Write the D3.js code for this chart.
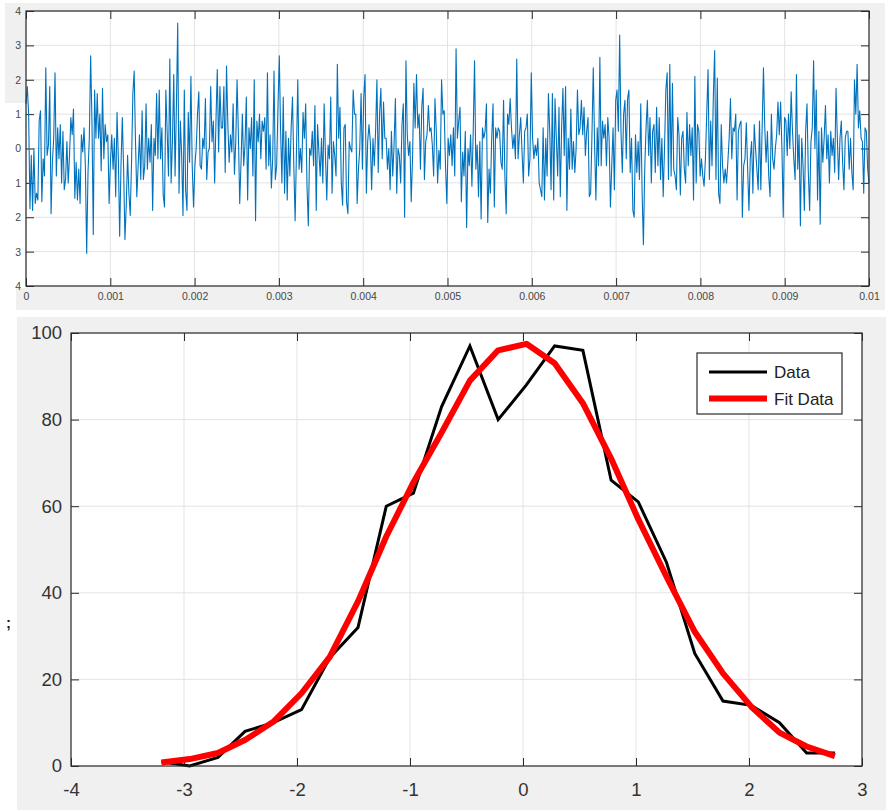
<!DOCTYPE html>
<html><head><meta charset="utf-8">
<script src="https://cdn.jsdelivr.net/npm/d3@7"></script>
<style>
body{margin:0;background:#fff}
svg{display:block}
text{font-family:"Liberation Sans",Arial,Helvetica,sans-serif}
</style>
</head><body>
<svg id="c" width="890" height="810"></svg>
<script>
// ---------- Top panel: noise signal ----------
const signal = [
 1.3,1.8,1.0,-1.75,-0.2,-1.8,0.0,-1.6,-1.3,-1.5,0.8,1.1,-1.55,-0.3,-0.8,2.35,-0.2,0.1,1.8,-1.9,-0.4,0.3,2.2,-0.8,0.6,-0.3,0.7,-1.0,0.5,-1.2,-0.9,0.2,-1.0,-0.2,0.9,0.4,1.15,-1.45,-0.4,-1.5,-0.6,-1.6,0.4,-0.1,0.6,-0.5,-3.05,-0.7,0.3,2.7,0.8,-2.5,1.7,0.3,1.6,0.3,1.0,-0.65,1.75,-0.3,0.7,0.2,0.4,-1.6,
 -0.4,0.4,-0.6,0.3,-1.4,1.05,-0.3,-2.55,-0.5,0.9,-0.6,-2.65,-1.65,-0.2,-1.3,-1.95,-0.4,1.6,2.25,0.2,-1.4,-0.5,0.4,-0.9,1.1,-0.9,-0.5,1.3,-0.6,0.3,-0.4,0.7,-1.8,0.3,-0.2,1.6,-0.3,1.7,-0.3,0.6,-1.35,-1.7,1.7,0.5,-0.8,2.6,-1.0,0.2,2.15,-0.8,1.2,3.65,-1.3,0.8,-0.2,-1.95,1.7,-1.2,-1.8,1.05,-0.4,2.1,-0.5,-1.7,
 -0.5,0.0,1.0,1.65,-0.5,-0.6,0.3,0.0,1.45,-0.9,-0.1,0.0,1.8,0.2,0.8,-1.0,0.8,2.3,-0.1,1.8,0.6,0.6,1.8,-0.7,2.4,0.7,-0.4,0.4,-0.1,1.3,-0.75,0.2,2.0,0.4,-1.6,-0.4,1.0,-0.5,0.1,1.5,-1.5,0.6,0.0,0.9,-0.8,2.0,-2.1,0.8,0.2,1.0,-0.3,0.8,0.5,0.9,-0.6,2.2,-0.5,0.4,-1.15,-0.3,2.25,-0.9,-0.5,1.2,
 2.7,0.5,-1.0,1.5,-1.3,0.5,-1.5,0.3,-0.8,0.6,1.5,-0.5,-2.1,-0.1,2.0,-0.6,0.0,-0.7,1.05,0.3,1.3,-1.1,-2.25,0.0,-0.2,0.5,-0.5,1.25,-1.8,0.7,-0.1,-0.8,0.3,-1.0,1.3,-0.2,-1.5,0.1,-0.3,1.5,-1.3,0.2,-0.2,-0.8,2.45,0.3,1.2,-1.0,-1.65,0.6,0.7,-1.55,-1.9,0.2,0.0,-0.1,1.7,1.0,1.0,-1.6,-0.6,0.0,1.6,-0.6,
 1.5,2.15,-1.3,0.2,0.7,0.2,-1.2,0.3,-0.5,0.5,2.0,-0.7,1.0,1.75,-0.3,1.35,0.3,0.3,-0.6,0.0,-1.2,0.5,-0.8,0.1,1.45,-1.3,0.0,-0.2,-1.0,0.7,1.3,-2.0,2.55,0.4,-0.2,0.2,-1.55,-0.3,1.9,0.6,2.15,0.6,1.0,-0.6,1.2,1.75,-0.9,0.2,0.4,1.25,0.5,0.6,0.1,-0.8,1.45,0.5,-1.0,-0.05,-0.6,2.0,1.0,1.1,-0.5,-1.6,
 0.3,-0.2,0.4,-0.5,0.6,-0.8,2.9,0.3,0.8,1.2,-1.55,-0.1,-0.8,0.5,-2.3,0.0,-0.5,0.4,-1.1,0.5,2.55,-0.6,0.1,-1.4,0.2,-2.05,0.6,0.3,0.5,1.3,-2.15,-0.6,-1.3,0.3,1.3,-1.7,0.6,0.3,0.6,0.5,-0.4,-0.6,1.4,-0.8,-1.9,1.0,0.7,1.45,0.6,0.0,0.4,-0.3,2.6,-0.3,0.4,0.9,-0.1,-1.0,0.5,0.6,1.0,-0.8,-0.3,2.2,
 0.3,-0.3,0.1,-0.2,0.3,-1.0,-1.2,-1.4,0.6,-1.5,0.3,-0.8,1.6,0.5,-1.2,1.6,-1.5,1.45,0.3,-0.8,1.2,-1.4,0.6,1.75,-0.2,1.8,-1.8,0.3,-0.6,1.15,-0.6,0.2,-0.7,0.0,1.7,0.4,0.6,1.4,0.4,1.2,-0.2,0.5,0.9,-1.4,-1.3,0.4,2.35,0.1,-1.5,0.6,-0.5,2.65,-0.5,0.8,0.3,0.7,-0.5,0.9,0.3,-1.7,-0.5,0.6,-1.2,1.4,
 1.7,0.5,3.3,0.5,-0.7,1.0,1.4,-0.3,1.45,1.7,-0.7,0.3,-1.8,-2.0,0.4,-0.7,0.2,-0.9,1.3,-1.25,-2.8,-0.6,0.6,1.4,-0.2,0.9,-1.0,0.5,0.7,-0.7,1.2,-0.5,0.9,-0.9,0.3,-1.4,0.0,1.7,2.2,-0.9,2.45,-0.8,1.9,-0.6,-0.8,-1.2,0.9,0.4,-1.35,0.3,0.5,-0.6,-1.0,1.05,-0.5,0.7,-0.2,0.6,-1.5,2.1,-1.0,0.7,0.5,-0.8,
 -0.3,-0.8,-1.1,-0.3,1.0,2.3,-0.9,0.8,-0.5,1.5,2.85,-0.9,2.05,-1.3,-1.6,0.7,-0.5,-1.0,-0.6,-1.0,-0.4,0.3,1.45,-0.3,0.6,0.5,1.0,-1.5,0.5,0.7,0.8,-2.0,-0.5,-0.3,0.75,-0.6,-1.8,-0.3,0.2,-1.3,0.7,0.0,-0.6,-1.2,0.8,-1.2,0.6,2.35,0.6,-0.4,0.5,-0.8,-1.4,1.0,-0.3,-0.6,0.0,0.4,1.35,0.4,1.35,0.0,-2.0,0.9,
 0.8,-0.2,1.0,0.0,1.65,0.5,-0.3,-0.9,2.15,-0.6,0.4,-2.25,0.3,-0.5,-1.8,0.5,1.3,-0.7,-1.8,0.2,0.6,2.55,0.0,1.7,-1.5,0.5,-2.2,0.6,-0.4,0.3,1.25,-0.3,0.4,-1.0,0.5,-0.2,0.3,-0.7,1.75,0.3,-0.9,0.3,0.8,-0.4,-1.2,0.3,0.5,0.5,-0.6,0.3,-0.7,-1.2,2.0,1.0,2.45,0.6,1.1,0.3,0.2,-1.3,0.6,0.5,-0.6,-1.0
];
const signalTimeEnd = 0.01;
const topXTicks = [0,0.001,0.002,0.003,0.004,0.005,0.006,0.007,0.008,0.009,0.01];
const topXTickLabels = ["0","0.001","0.002","0.003","0.004","0.005","0.006","0.007","0.008","0.009","0.01"];
const topYTicks = [4,3,2,1,0,-1,-2,-3,-4];
const topYTickLabels = ["4","3","2","1","0","1","2","3","4"];

// ---------- Bottom panel: histogram counts and fitted curve ----------
const binCenters = [-3.20,-2.95,-2.70,-2.46,-2.21,-1.96,-1.71,-1.46,-1.21,-0.97,-0.72,-0.47,-0.22,0.03,0.28,0.53,0.78,1.02,1.27,1.52,1.77,2.02,2.27,2.51,2.76];
const dataCounts = [1,0,2,8,10,13,25,32,60,63,83,97,80,88,97,96,66,61,47,26,15,14,10,3,3];
const fitCounts  = [0.8,1.6,3.0,6.0,10.2,16.8,25.2,38.0,53.0,65.5,77.0,89.0,96.0,97.5,93.0,83.8,71.0,57.0,43.7,31.0,21.4,13.7,7.7,4.5,2.3];
const histXTicks = [-4,-3,-2,-1,0,1,2,3];
const histYTicks = [0,20,40,60,80,100];
const legendLabels = ["Data","Fit Data"];
const seriesColors = ["#000000","#ff0000"];

const svg = d3.select("#c");

// backgrounds
svg.append("rect").attr("x",5).attr("y",3).attr("width",880).attr("height",307).attr("fill","#f0f0f0");
svg.append("rect").attr("x",0).attr("y",103).attr("width",26).attr("height",185).attr("fill","#fff");
svg.append("rect").attr("x",0).attr("y",288).attr("width",16).attr("height",22).attr("fill","#fff");
svg.append("rect").attr("x",17).attr("y",317).attr("width",869).attr("height",493).attr("fill","#f0f0f0");

function frame(g, x, y, xt, yt, opts){
  const [x0,x1] = x.range(), [yb,yt0] = y.range();
  g.append("rect").attr("x",x0).attr("y",yt0).attr("width",x1-x0).attr("height",yb-yt0).attr("fill","#fff");
  const grid = g.append("g").attr("stroke","#e3e3e3").attr("stroke-width",1);
  xt.forEach(v=>grid.append("line").attr("x1",x(v)).attr("x2",x(v)).attr("y1",yt0).attr("y2",yb));
  yt.forEach(v=>grid.append("line").attr("y1",y(v)).attr("y2",y(v)).attr("x1",x0).attr("x2",x1));
  const tl = opts.tick;
  const bx = g.append("g").attr("transform",`translate(0,${yb})`)
    .call(d3.axisBottom(x).tickValues(xt).tickSize(-tl).tickSizeOuter(0).tickPadding(opts.xPad).tickFormat((d,i)=>opts.xLabels[i]));
  const tx = g.append("g").attr("transform",`translate(0,${yt0})`)
    .call(d3.axisTop(x).tickValues(xt).tickSize(-tl).tickSizeOuter(0).tickFormat(""));
  const ly = g.append("g").attr("transform",`translate(${x0},0)`)
    .call(d3.axisLeft(y).tickValues(yt).tickSize(-tl).tickSizeOuter(0).tickPadding(opts.yPad).tickFormat((d,i)=>opts.yLabels[i]));
  const ry = g.append("g").attr("transform",`translate(${x1},0)`)
    .call(d3.axisRight(y).tickValues(yt).tickSize(-tl).tickSizeOuter(0).tickFormat(""));
  [bx,tx,ly,ry].forEach(a=>{
    a.select(".domain").remove();
    a.selectAll(".tick line").attr("stroke","#2b2b2b");
    a.selectAll("text").attr("fill",opts.textColor).attr("font-size",opts.font)
      .attr("font-family",'"Liberation Sans",Arial,sans-serif');
  });
  return ()=>g.append("rect").attr("x",x0).attr("y",yt0).attr("width",x1-x0).attr("height",yb-yt0)
    .attr("fill","none").attr("stroke","#2b2b2b").attr("stroke-width",1.2);
}

// ---------- Top panel ----------
const xs = d3.scaleLinear().domain([0,signalTimeEnd]).range([26,869]);
const ys = d3.scaleLinear().domain([-4,4]).range([286,11]);
const gTop = svg.append("g");
const boxTop = frame(gTop, xs, ys, topXTicks, topYTicks,
  {tick:8, xPad:7, yPad:5, xLabels:topXTickLabels, yLabels:topYTickLabels, textColor:"#474747", font:10.5});
const n = signal.length;
gTop.append("path").datum(signal)
  .attr("fill","none").attr("stroke","#0072bd").attr("stroke-width",1.1).attr("stroke-linejoin","round")
  .attr("d", d3.line().x((d,i)=>xs(i/(n-1)*signalTimeEnd)).y(d=>ys(d)));
boxTop();

// ---------- Bottom panel ----------
const xh = d3.scaleLinear().domain([-4,3]).range([71,862]);
const yh = d3.scaleLinear().domain([0,100]).range([766,333]);
const gBot = svg.append("g");
const boxBot = frame(gBot, xh, yh, histXTicks, histYTicks,
  {tick:8, xPad:17, yPad:9, xLabels:histXTicks.map(String), yLabels:histYTicks.map(String), textColor:"#333333", font:18.5});
const lineH = d3.line().x((d,i)=>xh(binCenters[i])).y(d=>yh(d));
gBot.append("path").datum(dataCounts).attr("fill","none").attr("stroke",seriesColors[0])
  .attr("stroke-width",3).attr("stroke-linejoin","miter").attr("d",lineH);
gBot.append("path").datum(fitCounts).attr("fill","none").attr("stroke",seriesColors[1])
  .attr("stroke-width",6).attr("stroke-linejoin","round").attr("d",lineH);
boxBot();

// legend
const lg = gBot.append("g");
lg.append("rect").attr("x",697).attr("y",353).attr("width",145).attr("height",61)
  .attr("fill","#fff").attr("stroke","#2b2b2b").attr("stroke-width",1.2);
legendLabels.forEach((lab,i)=>{
  const yy = 372 + i*26.5;
  lg.append("line").attr("x1",709).attr("x2",767).attr("y1",yy).attr("y2",yy)
    .attr("stroke",seriesColors[i]).attr("stroke-width",i===0?3:6);
  lg.append("text").attr("x",774).attr("y",yy+6).attr("font-size",17).attr("fill","#222").text(lab);
});

// stray semicolon at left
svg.append("text").attr("x",6).attr("y",628).attr("font-size",15).attr("font-weight","bold").attr("fill","#10183a").text(";");
</script>
</body></html>
